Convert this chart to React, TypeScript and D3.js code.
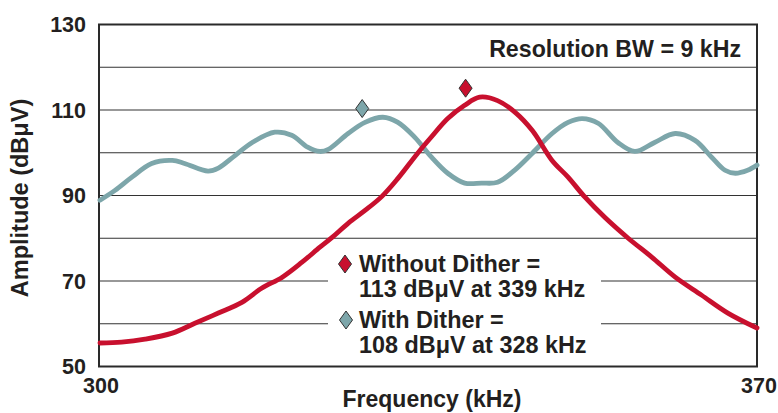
import React from "react";
import * as d3 from "d3";

// Spectrum of a switching regulator, with and without frequency dither
const yTicks = [50, 70, 90, 110, 130];
const gridLevels = [50, 60, 70, 80, 90, 100, 110, 120, 130];
const xTickLabels = [300, 370];

// Without dither (red trace): frequency in kHz, amplitude in dBµV
const noDitherFreq = [300.1, 302.4, 304.9, 307.8, 310.2, 312.7, 315.2, 317.3, 319.5, 321.6, 323.5, 324.8, 326.5, 328.3, 330.1, 331.8, 333.9, 335.4, 337.1, 338.9, 340.5, 342.4, 344.3, 346.1, 348.2, 349.9, 351.7, 353.8, 356.3, 358.8, 361.3, 364.1, 366.9, 370.0];
const noDitherAmp = [55.5, 55.7, 56.4, 57.8, 60.1, 62.5, 65.0, 68.3, 70.9, 74.4, 77.9, 80.2, 83.5, 86.5, 89.8, 94.0, 99.9, 103.8, 108.0, 111.1, 113.0, 112.2, 109.4, 105.2, 98.2, 94.3, 89.6, 84.9, 80.0, 75.6, 70.9, 66.7, 62.5, 59.0];

// With dither (teal trace)
const ditherFreq = [300.1, 301.7, 303.5, 305.6, 307.8, 309.1, 311.6, 312.7, 314.5, 316.3, 318.7, 320.5, 322.2, 323.5, 324.4, 326.5, 328.3, 330.2, 331.8, 333.6, 335.4, 337.1, 338.9, 340.7, 342.4, 344.2, 346.1, 348.2, 349.9, 351.4, 353.1, 355.2, 357.0, 359.1, 361.3, 363.4, 365.2, 366.6, 367.7, 369.0, 370.0];
const ditherAmp = [88.9, 91.2, 94.3, 97.5, 98.2, 97.5, 95.7, 96.4, 99.4, 102.4, 104.8, 104.1, 101.3, 100.3, 100.8, 104.5, 107.1, 108.3, 107.1, 103.6, 98.9, 95.2, 92.9, 92.9, 93.1, 95.9, 99.9, 104.5, 107.1, 108.0, 106.9, 102.4, 100.3, 102.4, 104.5, 102.9, 98.9, 95.9, 95.2, 95.9, 97.1];

// Peak annotations
const peakNoDither = { freq: 339, amp: 113 };
const peakDither = { freq: 328, amp: 108 };

const legendLines = [
  "Without Dither =",
  "113 dBμV at 339 kHz",
  "With Dither =",
  "108 dBμV at 328 kHz",
];

const RED = "#c8102e";
const TEAL = "#7da6aa";
const INK = "#231f20";
const FONT = "'Liberation Sans', Arial, Helvetica, sans-serif";

const W = 778;
const H = 413;
const plot = { left: 99, right: 757, top: 24.5, bottom: 366.5 };

const x = d3.scaleLinear().domain([300, 370]).range([plot.left, plot.right]);
const y = d3.scaleLinear().domain([50, 130]).range([plot.bottom, plot.top]);

const line = d3
  .line<[number, number]>()
  .x((d) => x(d[0]))
  .y((d) => y(d[1]))
  .curve(d3.curveCatmullRom.alpha(0.5));

const zip = (f: number[], a: number[]) => f.map((v, i) => [v, a[i]] as [number, number]);

function Diamond({ cx, cy, fill }: { cx: number; cy: number; fill: string }) {
  const w = 6.5;
  const h = 9;
  return (
    <path
      d={`M${cx},${cy - h}L${cx + w},${cy}L${cx},${cy + h}L${cx - w},${cy}Z`}
      fill={fill}
      stroke="#333"
      strokeWidth={1}
    />
  );
}

export default function App() {
  const legendX = 359;
  const legendBase = [272, 297, 328, 353];
  return (
    <svg
      width={W}
      height={H}
      viewBox={`0 0 ${W} ${H}`}
      style={{ position: "absolute", left: 0, top: 0, background: "#fff" }}
      fontFamily={FONT}
      fontWeight="bold"
      fill={INK}
    >
      {/* horizontal grid */}
      {gridLevels.map((v) => (
        <line
          key={v}
          x1={plot.left}
          x2={plot.right}
          y1={y(v)}
          y2={y(v)}
          stroke="#333"
          strokeWidth={1.2}
        />
      ))}

      {/* legend backdrop interrupts grid */}
      <rect x={328} y={250} width={273} height={110} fill="#fff" />

      {/* frame */}
      <rect
        x={plot.left}
        y={plot.top}
        width={plot.right - plot.left}
        height={plot.bottom - plot.top}
        fill="none"
        stroke="#2a2a2a"
        strokeWidth={2}
      />

      {/* traces */}
      <path d={line(zip(ditherFreq, ditherAmp)) ?? ""} fill="none" stroke={TEAL} strokeWidth={4.8} strokeLinejoin="round" strokeLinecap="round" />
      <path d={line(zip(noDitherFreq, noDitherAmp)) ?? ""} fill="none" stroke={RED} strokeWidth={4.8} strokeLinejoin="round" strokeLinecap="round" />

      {/* peak markers, drawn just above each peak */}
      <Diamond cx={x(peakNoDither.freq)} cy={y(peakNoDither.amp) - 9} fill={RED} />
      <Diamond cx={x(peakDither.freq)} cy={y(peakDither.amp) - 10} fill={TEAL} />

      {/* y tick labels */}
      {yTicks.map((v) => (
        <text key={v} x={86} y={y(v) + 7.5} textAnchor="end" fontSize={21.5}>
          {v}
        </text>
      ))}

      {/* x tick labels */}
      {xTickLabels.map((v) => (
        <text key={v} x={x(v) + 2} y={393} textAnchor="middle" fontSize={21.5}>
          {v}
        </text>
      ))}

      {/* axis titles */}
      <text x={432} y={407} textAnchor="middle" fontSize={23}>
        Frequency (kHz)
      </text>
      <text
        transform={`translate(28,198) rotate(-90)`}
        textAnchor="middle"
        fontSize={23.5}
      >
        Amplitude (dBμV)
      </text>

      {/* resolution bandwidth note */}
      <text x={741} y={57} textAnchor="end" fontSize={23.2}>
        Resolution BW = 9 kHz
      </text>

      {/* legend */}
      <Diamond cx={345} cy={264} fill={RED} />
      <Diamond cx={346} cy={320} fill={TEAL} />
      {legendLines.map((t, i) => (
        <text key={i} x={legendX} y={legendBase[i]} fontSize={23.4}>
          {t}
        </text>
      ))}
    </svg>
  );
}
